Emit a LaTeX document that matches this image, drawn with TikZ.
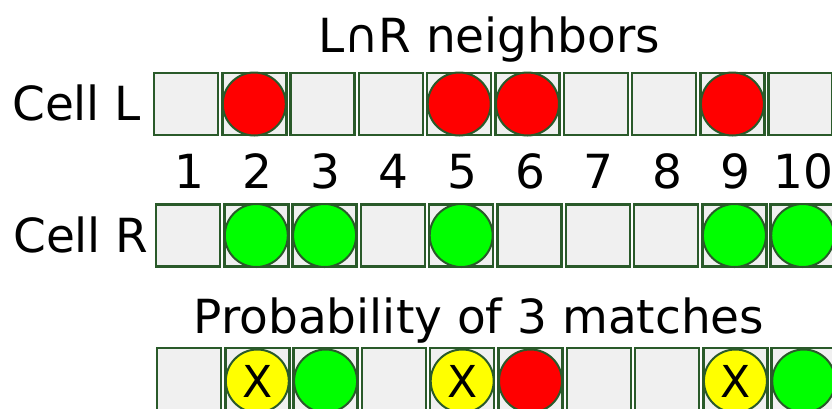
\documentclass[tikz,border=0pt]{standalone}
\usepackage{fontspec}
\setmainfont{DejaVu Sans}
\definecolor{edgegreen}{HTML}{2A5A2A}
\definecolor{cellgray}{HTML}{F0F0F0}
\definecolor{ballred}{HTML}{FF0000}
\definecolor{ballgreen}{HTML}{00FF00}
\definecolor{ballyellow}{HTML}{FFFF00}
\tikzset{
  cellbox/.style={draw=edgegreen, fill=cellgray, line width=2.5pt, rectangle,
    minimum width=64pt, minimum height=62pt, inner sep=0pt},
  ball/.style={draw=edgegreen, line width=2pt, circle, minimum size=63pt, inner sep=0pt,
    font=\fontsize{44}{44}\selectfont},
  redball/.style={ball, fill=ballred},
  greenball/.style={ball, fill=ballgreen},
  yellowball/.style={ball, fill=ballyellow},
  bigtext/.style={font=\fontsize{47}{50}\selectfont, inner sep=0pt},
}
\begin{document}
\begin{tikzpicture}[x=1pt, y=-1pt]
\useasboundingbox (0,0) rectangle (832,408);
\clip (0,0) rectangle (832,408);
\fill[white] (0,0) rectangle (832,408);
% titles and labels
\node[bigtext, anchor=base] (title1) at (489,52) {L∩R neighbors};
\node[bigtext, anchor=base west] (labL) at (12,120) {Cell L};
\node[bigtext, anchor=base west] (labR) at (13,252) {Cell R};
\node[bigtext, anchor=base] (title2) at (479,333) {Probability of 3 matches};
% rows of cells
\foreach \i in {1,...,10} {
  \node[cellbox] (L\i) at ({186+(\i-1)*68.3},104) {};
  \node[cellbox] (R\i) at ({188+(\i-1)*68.3},235.5) {};
  \node[cellbox] (P\i) at ({189+(\i-1)*68.3},379) {};
  \node[bigtext, anchor=base] (n\i) at ({189+(\i-1)*68.3},188) {\i};
}
% Cell L balls
\foreach \i in {2,5,6,9} \node[redball] (bL\i) at (L\i) {};
% Cell R balls
\foreach \i in {2,3,5,9,10} \node[greenball] (bR\i) at (R\i) {};
% matches row
\foreach \i in {2,5,9} \node[yellowball] (bP\i) at ([yshift=-2pt]P\i.center) {X};
\node[greenball] (bP3) at ([yshift=-2pt]P3.center) {};
\node[redball] (bP6) at ([yshift=-2pt]P6.center) {};
\node[greenball] (bP10) at ([yshift=-2pt]P10.center) {};
\end{tikzpicture}
\end{document}
